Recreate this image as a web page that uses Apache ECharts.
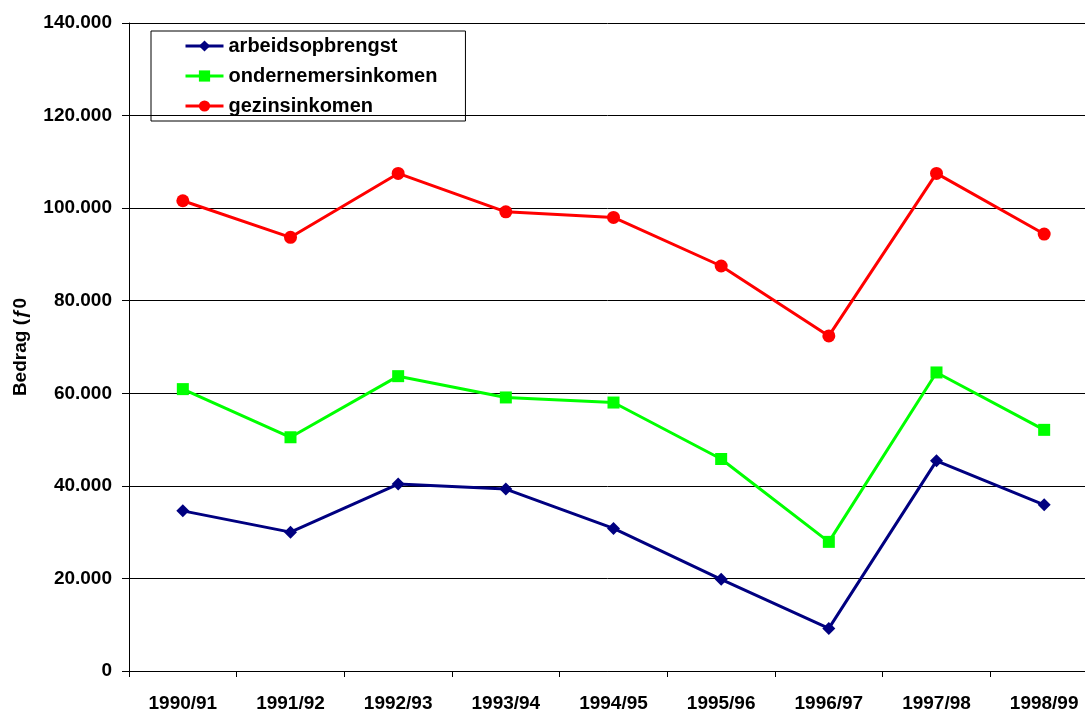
<!DOCTYPE html>
<html>
<head>
<meta charset="utf-8">
<script src="https://cdn.jsdelivr.net/npm/echarts@6/dist/echarts.min.js"></script>
<style>
	html, body { margin: 0; padding: 0; background: #fff; }
	#chart { width: 1085px; height: 709px; }
</style>
</head>
<body>
<div id="chart"></div>
<script>
	// categorieen (seizoenen)
	var jaren = ["1990/91", "1991/92", "1992/93", "1993/94", "1994/95", "1995/96", "1996/97", "1997/98", "1998/99"];
	// waarden in gulden
	var arbeidsopbrengst = [34600, 30000, 40400, 39300, 30800, 19800, 9200, 45400, 35900];
	var ondernemersinkomen = [60900, 50500, 63700, 59100, 58000, 45800, 27900, 64500, 52100];
	var gezinsinkomen = [101600, 93700, 107500, 99200, 98000, 87500, 72400, 107500, 94400];

	var fontFam = "'Liberation Sans', Arial, sans-serif";

	// getal met punt als duizendtal-scheiding
	function fmt(v) {
		if(v == 0) return "0";
		var s = String(v);
		return s.replace(/\B(?=(\d{3})+(?!\d))/g, ".");
	}

	var chart = echarts.init(document.getElementById("chart"));
	var option = {
		animation: false,
		backgroundColor: "#fff",
		textStyle: { fontFamily: fontFam },
		grid: {
			left: 129,
			top: 23,
			bottom: 38,
			right: -13,
			containLabel: false,
			outerBoundsMode: "none"
		},
		legend: {
			orient: "vertical",
			left: 151,
			top: 31,
			padding: [5, 28, 5, 33],
			borderColor: "#000",
			borderWidth: 1,
			itemWidth: 38,
			itemHeight: 14,
			itemGap: 10,
			lineStyle: { width: 3 },
			textStyle: { fontFamily: fontFam, fontSize: 20, fontWeight: "bold", color: "#000" },
			data: ["arbeidsopbrengst", "ondernemersinkomen", "gezinsinkomen"]
		},
		xAxis: {
			type: "category",
			data: jaren,
			boundaryGap: true,
			axisLine: { lineStyle: { color: "#000", width: 1 } },
			axisTick: { show: true, interval: 0, length: 6, lineStyle: { color: "#000" } },
			axisLabel: {
				interval: 0,
				margin: 23,
				color: "#000",
				fontSize: 19,
				fontWeight: "bold",
				fontFamily: fontFam
			},
			splitLine: { show: false }
		},
		yAxis: {
			type: "value",
			min: 0,
			max: 140000,
			interval: 20000,
			name: "Bedrag (\u01920",
			nameLocation: "middle",
			nameGap: 99,
			nameRotate: 90,
			nameTextStyle: { color: "#000", fontSize: 19, fontWeight: "bold", fontFamily: fontFam },
			axisLine: { show: true, lineStyle: { color: "#000", width: 1 } },
			axisTick: { show: true, length: 7, lineStyle: { color: "#000" } },
			axisLabel: {
				margin: 17,
				color: "#000",
				fontSize: 19,
				fontWeight: "bold",
				fontFamily: fontFam,
				formatter: fmt
			},
			splitLine: { show: true, lineStyle: { color: "#000", width: 1 } }
		},
		series: [{
				name: "arbeidsopbrengst",
				type: "line",
				data: arbeidsopbrengst,
				symbol: "diamond",
				symbolSize: 13,
				lineStyle: { color: "#000080", width: 3 },
				itemStyle: { color: "#000080" }
			},
			{
				name: "ondernemersinkomen",
				type: "line",
				data: ondernemersinkomen,
				symbol: "rect",
				symbolSize: 12,
				lineStyle: { color: "#00ff00", width: 3 },
				itemStyle: { color: "#00ff00" }
			},
			{
				name: "gezinsinkomen",
				type: "line",
				data: gezinsinkomen,
				symbol: "circle",
				symbolSize: 13,
				lineStyle: { color: "#ff0000", width: 3 },
				itemStyle: { color: "#ff0000" }
			}
		]
	};
	chart.setOption(option);
</script>
</body>
</html>
